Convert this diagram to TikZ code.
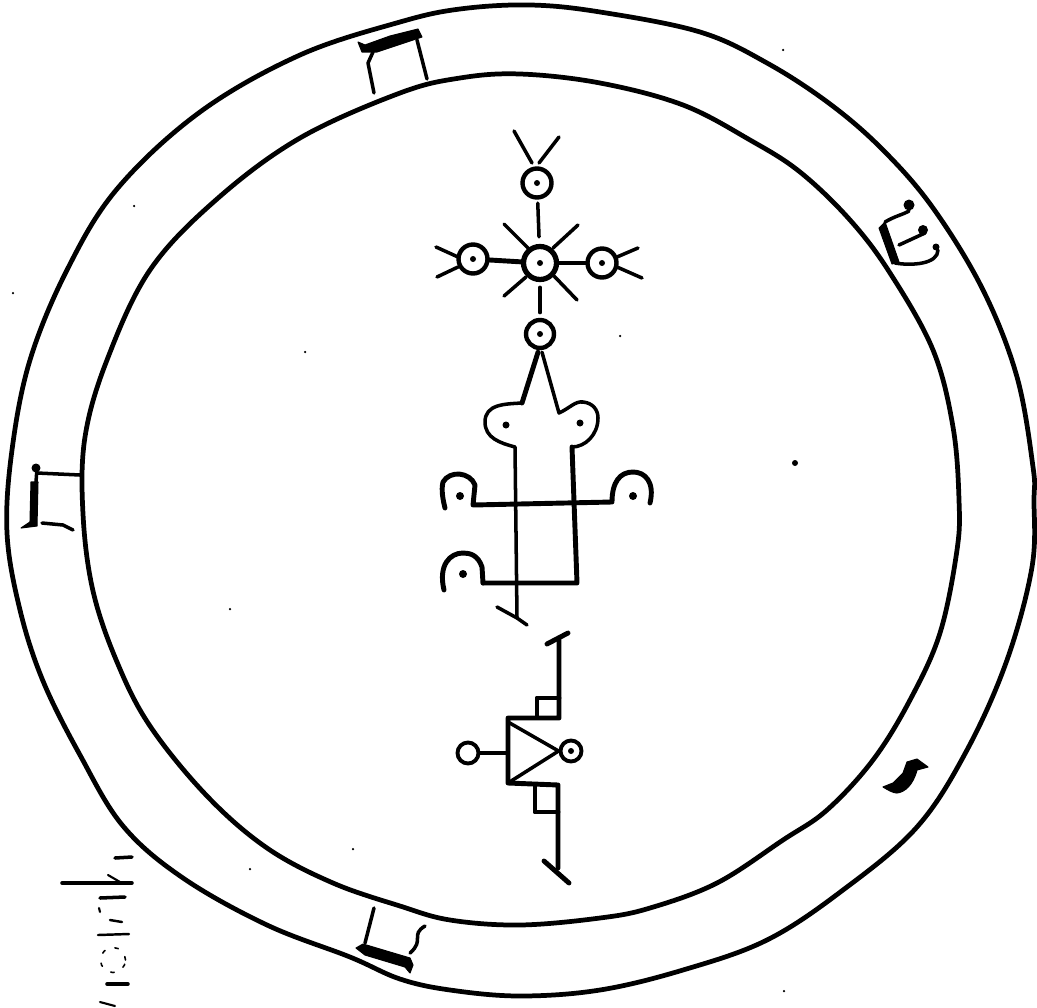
\documentclass[tikz,border=0pt]{standalone}
\usetikzlibrary{arrows.meta, positioning}

\begin{document}
\begin{tikzpicture}[
x=0.02cm, y=-0.02cm,
ring/.style={line width=2.7pt, line join=round},
thin line/.style={line width=2pt, line cap=round, line join=round},
thick line/.style={line width=2.8pt, line cap=round, line join=round},
eye/.style={circle, draw=black, line width=2.5pt, inner sep=0pt, minimum size=0.58cm},
small eye/.style={eye, line width=2.2pt, minimum size=0.42cm},
ink/.style={fill=black, draw=black, line width=0.6pt, line join=round}
]
\useasboundingbox (0,0) rectangle (1037,1007);

\draw[ring] plot[smooth cycle, tension=0.6] coordinates {(530,5) (600,12) (700,32) (767,63) (830,104) (883,150) (933,208) (983,290) (1017,377) (1033,467) (1034,500) (1032,567) (1007,660) (967,750) (917,827) (843,890) (767,940) (683,970) (600,990) (520,996) (450,990) (400,979) (350,957) (267,925) (183,878) (123,826) (80,755) (43,681) (20,610) (7,533) (12,450) (30,360) (67,270) (117,189) (200,112) (300,55) (400,22) (460,9)};
\draw[ring] plot[smooth cycle, tension=0.6] coordinates {(520,74) (600,83) (683,105) (750,140) (800,172) (850,220) (890,273) (933,350) (953,427) (959,500) (957,550) (940,633) (910,700) (873,760) (827,810) (783,840) (717,883) (650,908) (600,918) (520,925) (450,920) (400,906) (333,883) (267,848) (207,796) (150,726) (117,662) (93,591) (83,514) (85,437) (107,360) (150,270) (217,199) (300,138) (400,93) (460,78)};

\node[eye] (topeye) at (537,183) {};
\node[eye, minimum size=0.66cm, line width=3pt] (centereye) at (540,263) {};
\node[eye] (lefteye) at (473,259) {};
\node[eye] (righteye) at (602,263) {};
\node[eye, minimum size=0.56cm] (lowereye) at (540,334) {};
\node[small eye] (tipeye) at (571,751) {};
\node[small eye] (blankeye) at (468,753) {};
\foreach \n in {topeye,centereye,lefteye,righteye,lowereye,tipeye}
  \fill (\n) circle (0.06cm);

\draw[thin line, shorten <=2pt, shorten >=4pt] (topeye) -- (centereye);
\draw[thick line] (lefteye) -- (centereye);
\draw[thick line] (righteye) -- (centereye);
\draw[thin line, shorten <=3pt, shorten >=3pt] (centereye) -- (lowereye);

\draw[thin line] (532,163) -- (514,131);
\draw[thin line] (539,163) -- (559,137);
\draw[thin line] (528,248) -- (504,224);
\draw[thin line] (553,248) -- (578,225);
\draw[thin line] (526,277) -- (504,296);
\draw[thin line] (554,276) -- (577,300);
\draw[thin line] (458,257) -- (436,247);
\draw[thin line] (458,267) -- (437,277);
\draw[thin line] (617,257) -- (638,248);
\draw[thin line] (617,267) -- (642,278);

% body below the cross
\draw[thick line] (lowereye.south) ++(-2,2) -- (522,403);
\draw[thin line] (522,403) .. controls (505,404) and (485,404) .. (485,422) .. controls (485,438) and (500,443) .. (515,447) -- (517,618);
\draw[thin line] (lowereye.south) ++(2,2) -- (559,413) .. controls (570,408) and (575,401) .. (583,402) .. controls (593,403) and (598,410) .. (598,418) .. controls (598,435) and (585,447) .. (572,447);
\draw[thick line] (572,447) -- (577,583) -- (483,583);
\fill (506,425) circle (0.07cm);
\fill (580,423) circle (0.07cm);

\draw[thick line] (650,503) .. controls (655,482) and (645,472) .. (633,472) .. controls (620,472) and (612,482) .. (612,502) -- (473,505) -- (475,485) .. controls (470,472) and (450,470) .. (443,482) .. controls (441,490) and (443,500) .. (445,508);
\fill (460,496) circle (0.08cm);
\fill (633,496) circle (0.08cm);

\draw[thick line] (483,583) -- (482,567) .. controls (478,555) and (470,553) .. (463,553) .. controls (450,553) and (438,565) .. (444,590);
\fill (463,574) circle (0.08cm);
\draw[thin line] (497,607) -- (517,618) -- (527,625);

% lower figure
\draw[thick line] (568,633) -- (547,644);
\draw[thick line] (559,640) -- (559,718) -- (508,718) -- (508,783) -- (558,785) -- (558,868);
\draw[thick line] (537,717) -- (537,698) -- (559,698);
\draw[thick line] (535,785) -- (535,812) -- (558,812);
\draw[thick line] (544,861) -- (569,883);
\draw[thin line] (508,722) -- (tipeye.west);
\draw[thin line] (508,783) -- (tipeye.west);
\draw[thin line] (blankeye) -- (508,753);

% letters in the ring
\draw[ink] (358,42) -- (362,52) -- (377,52) -- (422,37) -- (418,29) -- (390,36) -- (365,45) -- cycle;
\draw[thin line] (373,52) -- (368,63) -- (374,93);
\draw[thin line] (417,40) -- (427,79);

\draw[ink] (879,228) -- (885,222) -- (899,262) -- (892,264) -- cycle;
\draw[thin line] (885,222) .. controls (895,216) and (902,215) .. (909,211);
\draw[thin line] (895,263) .. controls (912,266) and (938,264) .. (938,250);
\draw[thin line] (925,233) -- (899,245);
\fill (909,205) circle (0.11cm);
\fill (923,230) circle (0.1cm);
\fill (936,247) circle (0.07cm);

\draw[ink] (31,482) -- (38,482) -- (37,526) -- (21,528) -- (30,522) -- cycle;
\fill (36,468) circle (0.09cm);
\draw[thin line] (37,468) -- (36,482);
\draw[thin line] (37,473) -- (80,475);
\draw[thin line] (42,523) -- (63,525) -- (73,530);

\draw[ink] (883,787) .. controls (888,790) and (893,793) .. (897,793) .. controls (905,792) and (913,785) .. (917,770) -- (928,767) -- (917,759) -- (907,762) -- (903,773) -- (893,783) -- cycle;

\draw[ink] (356,948) -- (363,944) -- (410,958) -- (413,965) -- (410,973) -- (405,967) -- (365,955) -- cycle;
\draw[thin line] (374,908) -- (365,943);
\draw[thin line] (425,926) .. controls (410,935) and (425,940) .. (410,953);

% faint writing at the lower left
\draw[thin line] (115,858) -- (132,857);
\draw[thin line] (62,883) -- (132,883);
\draw[thin line, line width=1.2pt] (108,875) -- (120,882);
\draw[thin line] (100,898) -- (125,897);
\draw[thin line, line width=1.2pt] (99,908) -- (100,912);
\draw[thin line, line width=1.4pt] (110,920) -- (122,922);
\draw[thin line, line width=1.4pt] (98,935) -- (129,934);
\draw[thin line, line width=0.9pt, dash pattern=on 2pt off 6pt] (113,960) circle (0.25cm);
\draw[thin line] (107,984) -- (128,984);
\draw[thin line, line width=1.2pt] (100,1002) -- (115,1006);

% specks
\fill (795,463) circle (0.06cm);
\foreach \x/\y in {783/50, 620/336, 13/293, 134/206, 305/352, 230/609, 353/849, 250/869, 784/991}
  \fill (\x,\y) circle (0.025cm);
\end{tikzpicture}
\end{document}
